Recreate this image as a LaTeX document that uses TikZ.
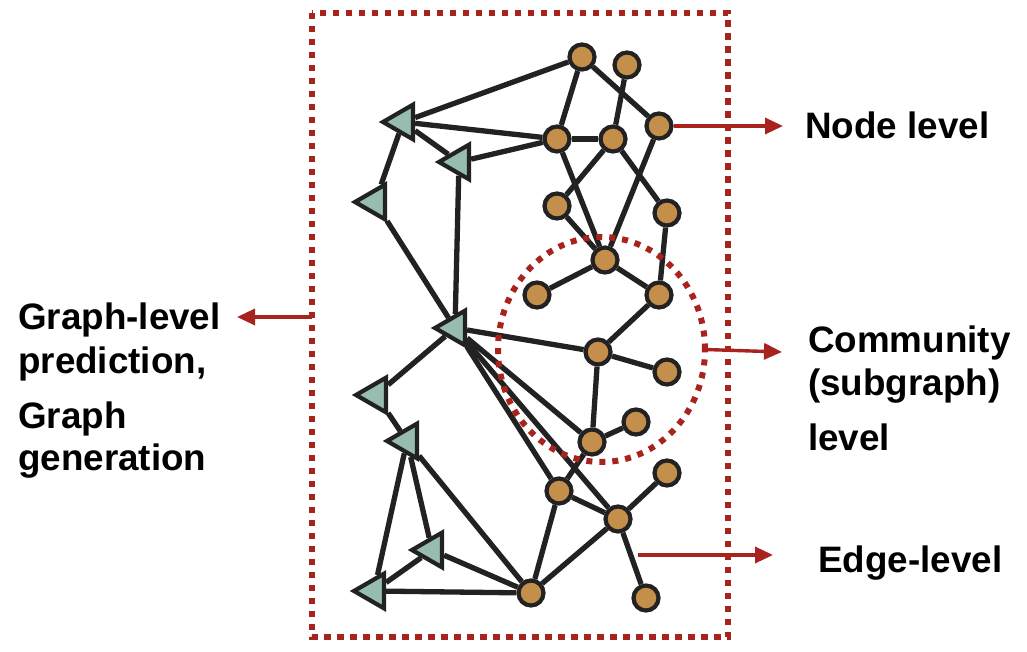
\documentclass[tikz,border=0pt]{standalone}
\usepackage{fontspec}
\setmainfont{Liberation Sans}
\usetikzlibrary{shapes.geometric,arrows.meta}
\definecolor{tan}{RGB}{196,142,75}
\definecolor{mint}{RGB}{151,189,176}
\definecolor{dred}{RGB}{168,35,29}
\definecolor{edgec}{RGB}{34,34,34}
\tikzset{
  cnode/.style={circle,draw=edgec,fill=tan,line width=4.2pt,minimum size=25pt,inner sep=0pt},
  tnode/.style={regular polygon,regular polygon sides=3,shape border rotate=90,draw=edgec,fill=mint,line width=4.2pt,minimum size=40pt,inner sep=0pt},
  gedge/.style={draw=edgec,line width=5.3pt},
  dotbox/.style={draw=dred,line width=6pt,dash pattern=on 6.5pt off 6.5pt},
  levarrow/.style={draw=dred,line width=3.4pt,-{Triangle[length=18pt,width=16pt]}},
  lab/.style={anchor=base west,inner sep=0pt,font=\fontsize{36.8}{40}\selectfont\bfseries}
}
\begin{document}
\begin{tikzpicture}[x=1pt,y=-1pt]
\useasboundingbox (0,0) rectangle (1027,652);
% triangles
\node[tnode] (T1) at (403,122) {};
\node[tnode] (T2) at (459,162) {};
\node[tnode] (T3) at (375,202) {};
\node[tnode] (T4) at (455,328) {};
\node[tnode] (T5) at (376,395) {};
\node[tnode] (T6) at (407,441) {};
\node[tnode] (T7) at (432,550) {};
\node[tnode] (T8) at (374,591) {};
% circles
\node[cnode] (A) at (582,57) {};
\node[cnode] (B) at (627,65) {};
\node[cnode] (C) at (659,126) {};
\node[cnode] (D) at (557,139) {};
\node[cnode] (E) at (613,139) {};
\node[cnode] (F) at (557,206) {};
\node[cnode] (G) at (667,213) {};
\node[cnode] (H) at (605,260) {};
\node[cnode] (I) at (537,295) {};
\node[cnode] (J) at (659,295) {};
\node[cnode] (K) at (598,352) {};
\node[cnode] (L) at (667,372) {};
\node[cnode] (M) at (636,422) {};
\node[cnode] (N) at (592,442) {};
\node[cnode] (O) at (667,473) {};
\node[cnode] (P) at (559,491) {};
\node[cnode] (Q) at (618,519) {};
\node[cnode] (R) at (531,593) {};
\node[cnode] (S) at (646,598) {};
% edges
\foreach \a/\b in {A/T1,A/D,A/C,B/E,D/T1,D/T2,D/E,D/H,E/F,E/G,C/H,F/H,G/J,H/I,H/J,J/K,
  T1/T2,T1/T3,T2/T4,T3/T4,T4/K,T4/T5,T4/N,T4/Q,T4/P,T5/T6,T6/T7,T6/T8,T6/R,T7/T8,T7/R,T8/R,
  K/L,K/N,N/M,N/P,P/Q,P/R,Q/O,Q/R,Q/S}
  \path[gedge] (\a) -- (\b);
% dotted frames
\node[draw=none,minimum width=416pt,minimum height=624pt,inner sep=0pt] (frame) at (520,325) {};
\draw[dotbox] (frame.north west) rectangle (frame.south east);
\node[ellipse,draw=none,minimum width=207pt,minimum height=225pt,inner sep=0pt] (comm) at (601.5,349.5) {};
\draw[dotbox,dash pattern=on 6pt off 7pt] (comm.center) ellipse [x radius=103.5pt,y radius=112.5pt];
% level arrows
\coordinate (nodeend) at (783,126);
\coordinate (commend) at (782,352);
\coordinate (graphend) at (237,317);
\coordinate (graphstart) at (312,317);
\coordinate (edgestart) at (638,555);
\coordinate (edgeend) at (773,555);
\draw[levarrow] (C.east) -- (nodeend);
\draw[levarrow] (comm.east) -- (commend);
\draw[levarrow] (graphstart) -- (graphend);
\draw[levarrow] (edgestart) -- (edgeend);
% labels
\node[lab] (nl) at (805,139) {Node level};
\node[lab] (cl1) at (808,352) {Community};
\node[lab] (cl2) at (808,395) {(subgraph)};
\node[lab] (cl3) at (808,450) {level};
\node[lab] (gl1) at (18,329) {Graph-level};
\node[lab] (gl2) at (18,373) {prediction,};
\node[lab] (gl3) at (18,428) {Graph};
\node[lab] (gl4) at (18,470) {generation};
\node[lab] (el) at (818,572) {Edge-level};
\end{tikzpicture}
\end{document}
